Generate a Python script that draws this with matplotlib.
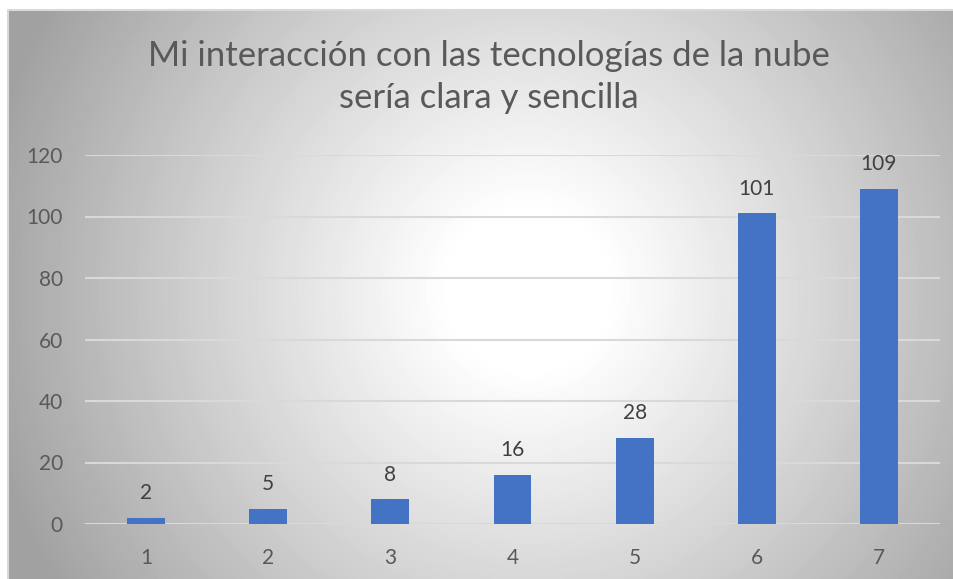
import numpy as np
import matplotlib
matplotlib.use("Agg")
import matplotlib.pyplot as plt

categories = ["1", "2", "3", "4", "5", "6", "7"]
values = [2, 5, 8, 16, 28, 101, 109]
yticks = [0, 20, 40, 60, 80, 100, 120]
title = "Mi interacción con las tecnologías de la nube\nsería clara y sencilla"

plt.rcParams['font.family'] = ['Lato', 'DejaVu Sans']

W, H = 954, 579
fig = plt.figure(figsize=(W / 100, H / 100), dpi=100)
fig.patch.set_facecolor("white")

# background panel with radial gradient (white centre, grey edges)
bg = fig.add_axes([8 / W, 0, 1 - 8 / W, 1 - 10 / H])
bg.set_axis_off()
yy, xx = np.mgrid[0:569, 0:946]
cx, cy = 520, 280
d = np.sqrt((xx - cx) ** 2 + (yy - cy) ** 2) / 560.0
d = np.clip((d - 0.14) / 0.86, 0, 1)
shade = 1.0 - 0.37 * d ** 1.05
bg.imshow(shade, cmap="gray", vmin=0, vmax=1, aspect="auto",
          extent=[0, 1, 0, 1], interpolation="bilinear")
bg.set_xlim(0, 1)
bg.set_ylim(0, 1)
bg.plot([0, 0, 1], [0, 1, 1], color="#d9d9d9", lw=1.5, transform=bg.transAxes,
        clip_on=False)

# plot area
left, right = 85 / W, 940 / W
bottom, top = 1 - 524 / H, 1 - 155 / H
ax = fig.add_axes([left, bottom, right - left, top - bottom])
ax.patch.set_alpha(0)

x = np.arange(len(categories))
bars = ax.bar(x, values, width=0.31, color="#4472c4", zorder=3)
for xi, v in zip(x, values):
    ax.text(xi, v + 4.8, str(v), ha="center", va="bottom", fontsize=15,
            color="#404040")

ax.set_xlim(-0.5, len(categories) - 0.5)
ax.set_ylim(0, 120)
ax.set_yticks(yticks)
ax.set_xticks(x)
ax.set_xticklabels(categories)
ax.tick_params(axis="both", length=0, labelsize=15, colors="#595959")
ax.tick_params(axis="y", pad=16)
ax.tick_params(axis="x", pad=17)
ax.grid(axis="y", color="#d9d9d9", lw=1.5, zorder=0)
for s in ax.spines.values():
    s.set_visible(False)

fig.text(489 / W, 1 - 77 / H, title, ha="center", va="center", fontsize=25,
         color="#595959", linespacing=1.4)

fig.savefig("out.png", dpi=100)
